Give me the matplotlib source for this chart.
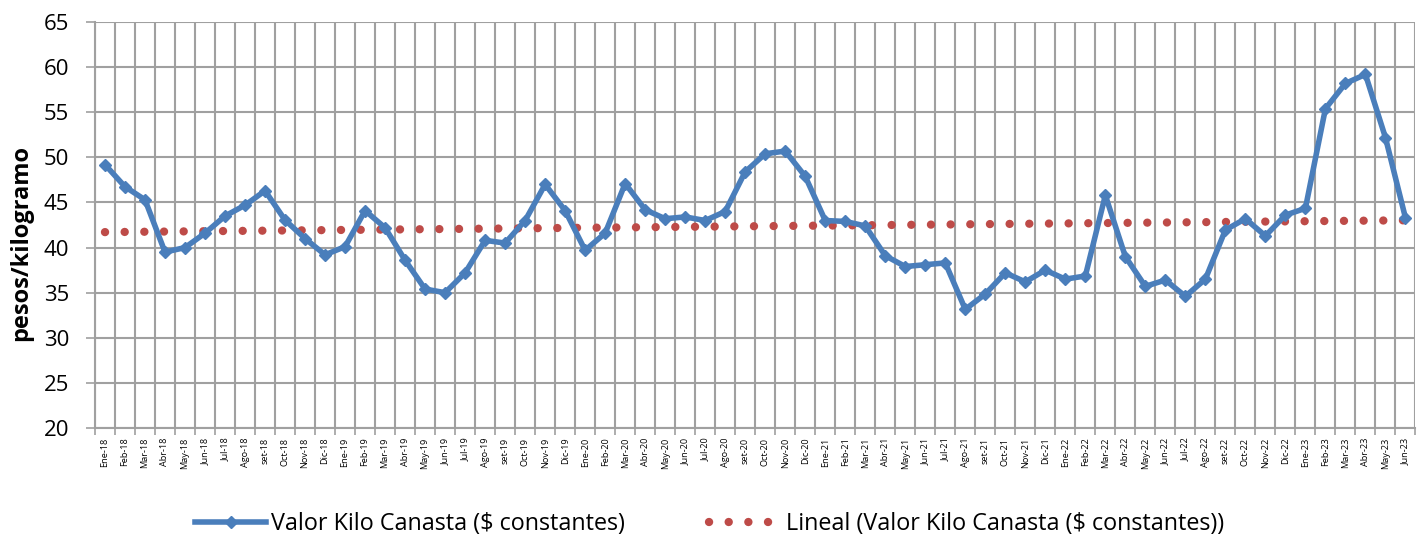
import matplotlib
matplotlib.use("Agg")
import matplotlib.pyplot as plt
import numpy as np
from matplotlib.lines import Line2D

months = ["Ene", "Feb", "Mar", "Abr", "May", "Jun", "Jul", "Ago", "set", "Oct", "Nov", "Dic"]
years = ["18", "19", "20", "21", "22", "23"]
labels = [f"{m}-{y}" for y in years for m in months][:66]

valor = [49.2, 46.75, 45.3, 39.5, 40.0, 41.6, 43.5, 44.7, 46.3, 43.05, 41.0, 39.2,
         40.1, 44.1, 42.2, 38.6, 35.4, 35.0, 37.2, 40.8, 40.5, 43.0, 47.0, 44.1,
         39.7, 41.6, 47.1, 44.2, 43.2, 43.4, 43.0, 44.0, 48.4, 50.4, 50.7, 47.9,
         43.0, 42.9, 42.4, 39.1, 37.9, 38.1, 38.3, 33.15, 34.85, 37.2, 36.2, 37.5,
         36.5, 36.85, 45.8, 39.0, 35.7, 36.4, 34.6, 36.5, 41.95, 43.2, 41.3, 43.6,
         44.35, 55.4, 58.2, 59.2, 52.2, 43.3]

x = np.arange(len(valor))
coef = np.polyfit(x, valor, 1)
trend = np.polyval(coef, x)

plt.rcParams['font.family'] = ['Open Sans', 'DejaVu Sans']

fig = plt.figure(figsize=(14.26, 5.39), dpi=100)
ax = fig.add_axes([0.0666, 0.206, 0.926, 0.753])

blue = "#4a7ebb"
red = "#be4b48"
grid = "#a0a0a0"
dots = (0, (0.01, 2.35))

ax.plot(x, trend, color=red, linestyle=dots, linewidth=6.0,
        dash_capstyle="round", zorder=2)
ax.plot(x, valor, color=blue, linewidth=4.0, marker="D", markersize=6.5,
        markeredgecolor=blue, markerfacecolor=blue, zorder=3)

ax.set_xlim(-0.5, len(valor) - 0.5)
ax.set_ylim(20, 65)
ax.set_yticks(np.arange(20, 66, 5))
ax.tick_params(axis="y", labelsize=16, length=6.5, width=1.2, color=grid, pad=12)

ax.set_xticks(x)
ax.set_xticklabels(labels, rotation=90, fontsize=6.6)
ax.set_xticks(np.arange(-0.5, len(valor), 1), minor=True)
ax.tick_params(axis="x", which="major", length=0, pad=7)
ax.tick_params(axis="x", which="minor", length=5, width=1.2, color=grid)

ax.grid(True, axis="y", which="major", color=grid, linewidth=1.5)
ax.grid(True, axis="x", which="minor", color=grid, linewidth=1.5)
ax.grid(False, axis="x", which="major")
ax.set_axisbelow(True)

for s in ["top", "right"]:
    ax.spines[s].set_visible(False)
ax.spines["left"].set_color(grid)
ax.spines["left"].set_linewidth(1.5)
ax.spines["bottom"].set_color(grid)
ax.spines["bottom"].set_linewidth(1.5)

ax.set_ylabel("pesos/kilogramo", fontsize=17, fontweight="bold")
ax.yaxis.set_label_coords(-0.047, 0.456)

h1 = Line2D([], [], color=blue, linewidth=4.0, marker="D", markersize=6.5)
h2 = Line2D([], [], color=red, linestyle=dots, linewidth=6.0,
            dash_capstyle="round")
fig.legend([h1, h2], ["Valor Kilo Canasta ($ constantes)",
                      "Lineal (Valor Kilo Canasta ($ constantes))"],
           loc="center", bbox_to_anchor=(0.4975, 0.028), ncol=2, frameon=False,
           fontsize=16.8, handlelength=3.05, columnspacing=3.6, handletextpad=0.22)

fig.savefig("out.png", dpi=100)
